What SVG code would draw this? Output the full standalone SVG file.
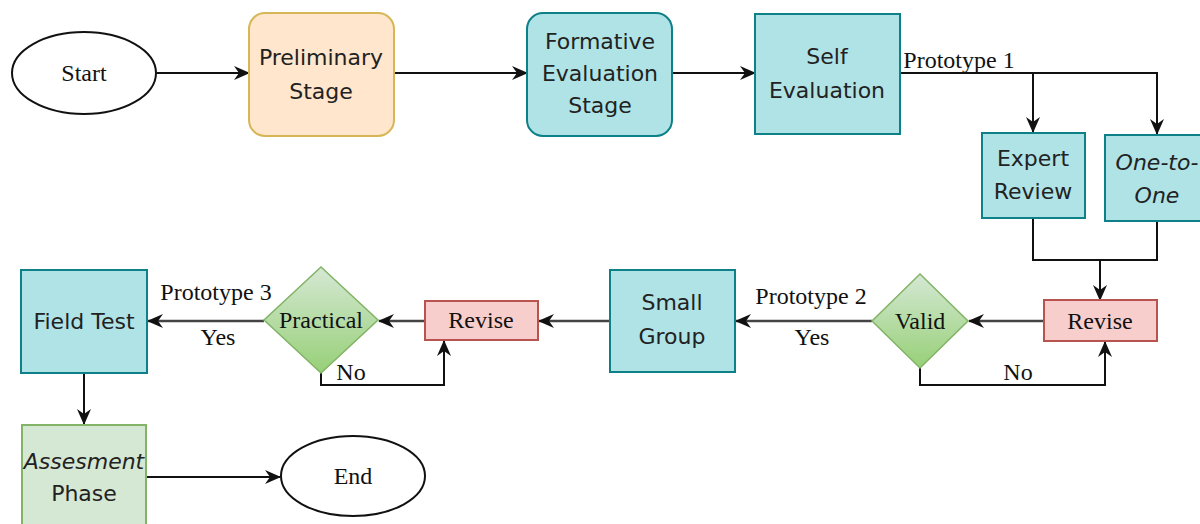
<svg xmlns="http://www.w3.org/2000/svg" width="1200" height="524" viewBox="0 0 1200 524">
<defs>
<style>
.box{font-family:"DejaVu Sans","Noto Sans",sans-serif;font-size:22px;fill:#222;text-anchor:middle}
.lbl{font-family:"Liberation Serif","Times New Roman",serif;font-size:24px;fill:#111;text-anchor:middle}
.ln{fill:none;stroke:#111;stroke-width:2}
.ln2{fill:none;stroke:#444;stroke-width:2.5}
.teal{fill:#b0e3e6;stroke:#0e8088;stroke-width:2}
.red{fill:#f8cecc;stroke:#b85450;stroke-width:2}
.dia{fill:url(#gg);stroke:#82b366;stroke-width:1.5}
</style>
<linearGradient id="gg" x1="0" y1="0" x2="0" y2="1">
<stop offset="0" stop-color="#d5e8d4"/>
<stop offset="1" stop-color="#97d077"/>
</linearGradient>
<marker id="ar" markerUnits="userSpaceOnUse" markerWidth="16" markerHeight="16" viewBox="0 0 16 16" refX="15" refY="8" orient="auto">
<path d="M0,1 L16,8 L0,15 L5,8 Z" fill="#111"/>
</marker>
</defs>
<rect width="1200" height="524" fill="#fff"/>
<g id="connectors">
<path class="ln" d="M157,73 H249" marker-end="url(#ar)"/>
<path class="ln" d="M394,73 H527" marker-end="url(#ar)"/>
<path class="ln" d="M672,73 H755" marker-end="url(#ar)"/>
<path class="ln" d="M900,73 H1157 V134" marker-end="url(#ar)"/>
<path class="ln" d="M1033,73 V132" marker-end="url(#ar)"/>
<path class="ln" d="M1033,218 V260 H1157 V221"/>
<path class="ln" d="M1100,260 V300" marker-end="url(#ar)"/>
<path class="ln2" d="M1044,321 H969" marker-end="url(#ar)"/>
<path class="ln" d="M920,368 V385 H1105 V342" marker-end="url(#ar)"/>
<path class="ln2" d="M872,321 H736" marker-end="url(#ar)"/>
<path class="ln2" d="M610,321 H539" marker-end="url(#ar)"/>
<path class="ln2" d="M425,321 H379" marker-end="url(#ar)"/>
<path class="ln" d="M321,373 V385 H444 V341" marker-end="url(#ar)"/>
<path class="ln2" d="M264,321 H148" marker-end="url(#ar)"/>
<path class="ln" d="M84,373 V424" marker-end="url(#ar)"/>
<path class="ln" d="M146,477 H280" marker-end="url(#ar)"/>
<text class="lbl" x="959" y="68">Prototype 1</text>
<text class="lbl" x="811" y="304">Prototype 2</text>
<text class="lbl" x="812" y="345">Yes</text>
<text class="lbl" x="1018" y="380">No</text>
<text class="lbl" x="216" y="300">Prototype 3</text>
<text class="lbl" x="218" y="345">Yes</text>
<text class="lbl" x="351" y="380">No</text>
</g>
<g id="start">
<ellipse cx="84" cy="73" rx="72" ry="41" fill="#fff" stroke="#111" stroke-width="2"/>
<text class="lbl" x="84" y="81">Start</text>
</g>
<g id="preliminary">
<rect x="249" y="13" width="145" height="123" rx="16" fill="#ffe6cc" stroke="#d6b656" stroke-width="2"/>
<text class="box" x="321" y="65">Preliminary</text>
<text class="box" x="321" y="99">Stage</text>
</g>
<g id="formative">
<rect x="527" y="13" width="145" height="123" rx="16" class="teal"/>
<text class="box" x="600" y="49">Formative</text>
<text class="box" x="600" y="81">Evaluation</text>
<text class="box" x="600" y="113">Stage</text>
</g>
<g id="self">
<rect x="755" y="14" width="145" height="120" class="teal"/>
<text class="box" x="827" y="64">Self</text>
<text class="box" x="827" y="98">Evaluation</text>
</g>
<g id="expert">
<rect x="982" y="133" width="103" height="85" class="teal"/>
<text class="box" x="1033" y="166">Expert</text>
<text class="box" x="1033" y="199">Review</text>
</g>
<g id="onetoone">
<rect x="1105" y="135" width="104" height="86" class="teal"/>
<text class="box" x="1157" y="170" font-style="italic">One-to-</text>
<text class="box" x="1157" y="203" font-style="italic">One</text>
</g>
<g id="revise2">
<rect x="1044" y="300" width="113" height="41" class="red"/>
<text class="lbl" x="1100" y="329">Revise</text>
</g>
<g id="valid">
<polygon points="920,274 968,321 920,368 872,321" class="dia"/>
<text class="lbl" x="920" y="329">Valid</text>
</g>
<g id="smallgroup">
<rect x="610" y="270" width="125" height="102" class="teal"/>
<text class="box" x="672" y="310">Small</text>
<text class="box" x="672" y="344">Group</text>
</g>
<g id="revise1">
<rect x="425" y="301" width="113" height="39" class="red"/>
<text class="lbl" x="481" y="328">Revise</text>
</g>
<g id="practical">
<polygon points="321,267 378,320 321,373 264,320" class="dia"/>
<text class="lbl" x="321" y="328">Practical</text>
</g>
<g id="fieldtest">
<rect x="21" y="270" width="126" height="103" class="teal"/>
<text class="box" x="84" y="329">Field Test</text>
</g>
<g id="assesment">
<rect x="22" y="425" width="124" height="105" fill="#d5e8d4" stroke="#82b366" stroke-width="2"/>
<text class="box" x="84" y="469" font-style="italic">Assesment</text>
<text class="box" x="84" y="501">Phase</text>
</g>
<g id="end">
<ellipse cx="353" cy="476" rx="72" ry="40" fill="#fff" stroke="#111" stroke-width="2"/>
<text class="lbl" x="353" y="484">End</text>
</g>
</svg>
